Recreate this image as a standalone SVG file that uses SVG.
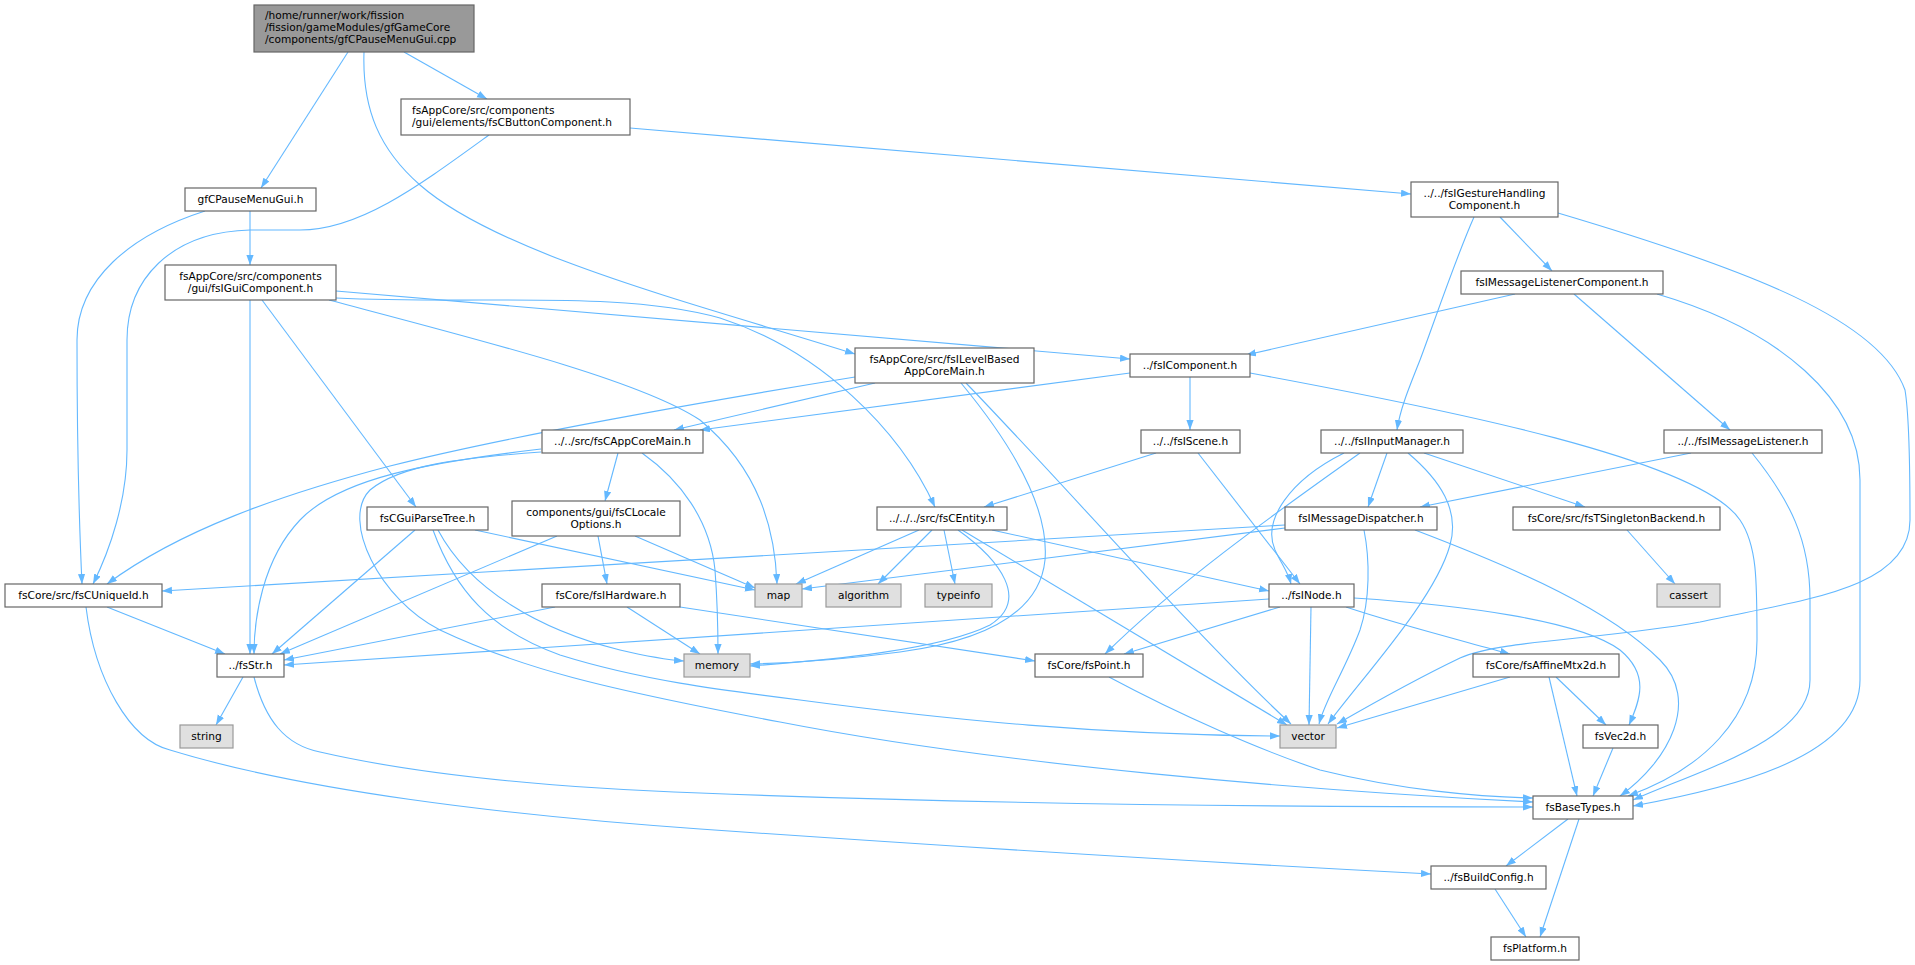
<svg xmlns="http://www.w3.org/2000/svg" width="1915" height="965" viewBox="0 0 1915 965">
<defs>
<marker id="ah" markerWidth="11" markerHeight="8" refX="10" refY="3.6" orient="auto" markerUnits="userSpaceOnUse"><path d="M0,0 L10,3.6 L0,7.2 z" fill="#63b8ff"/></marker>
<style>
rect{stroke-width:1.2}
.n rect{fill:#ffffff;stroke:#666666}
.x rect{fill:#e0e0e0;stroke:#999999}
.r rect{fill:#999999;stroke:#666666}
text{font-family:"DejaVu Sans","Liberation Sans",sans-serif;font-size:10.6px;fill:#000000;text-anchor:middle}
text.l{text-anchor:start}
#edges path{fill:none;stroke:#63b8ff;stroke-width:1.1;marker-end:url(#ah)}
</style>
</defs>
<rect width="1915" height="965" fill="#ffffff"/>
<g id="edges">
<path d="M348,52 L261,188"/>
<path d="M404,52 L487,99"/>
<path d="M364,52 C362,110 380,150 420,185 C500,255 700,305 855,354"/>
<path d="M250,211 L250,265"/>
<path d="M205,211 C130,235 77,280 77,340 C77,420 79,520 82,584"/>
<path d="M630,128 L1411,194"/>
<path d="M489,135 C420,185 360,230 300,230 L250,230 C170,232 127,280 127,340 L127,450 C127,500 110,550 93,584"/>
<path d="M336,291 L1130,359"/>
<path d="M336,298 C480,305 620,290 720,318 C820,350 900,430 935,507"/>
<path d="M329,300 C480,340 640,380 700,420 C760,470 775,530 777,584"/>
<path d="M250,300 L250,654"/>
<path d="M262,300 L416,507"/>
<path d="M1500,217 L1552,271"/>
<path d="M1474,217 C1455,260 1435,320 1420,360 C1408,390 1400,410 1397,430"/>
<path d="M1558,213 C1750,270 1880,320 1905,390 C1910,420 1910,480 1910,520 C1910,590 1800,600 1700,622 C1600,640 1500,640 1460,658 C1410,682 1370,705 1337,724"/>
<path d="M1515,294 L1246,355"/>
<path d="M1574,294 L1730,430"/>
<path d="M1657,294 C1780,330 1860,400 1860,480 L1860,680 C1860,760 1720,790 1633,806"/>
<path d="M875,383 L674,430"/>
<path d="M855,377 C700,402 500,438 390,466 C280,495 180,530 107,584"/>
<path d="M961,383 C1000,430 1050,500 1045,560 C1040,610 990,640 900,652 C840,660 790,663 750,664"/>
<path d="M966,383 C1060,480 1200,640 1291,724"/>
<path d="M1130,373 L700,430"/>
<path d="M1190,377 L1190,430"/>
<path d="M1250,373 C1450,410 1700,460 1740,520 C1757,545 1757,580 1757,640 C1757,720 1700,770 1628,796"/>
<path d="M618,453 L605,501"/>
<path d="M541,449 C430,462 340,478 300,520 C262,560 254,620 254,654"/>
<path d="M642,453 C680,480 710,520 715,570 C718,610 718,630 718,654"/>
<path d="M541,452 C460,458 400,465 370,490 C340,520 380,600 440,630 C520,668 600,688 780,722 C1000,765 1300,790 1533,802"/>
<path d="M1156,453 L984,507"/>
<path d="M1198,453 L1300,584"/>
<path d="M1387,453 L1368,507"/>
<path d="M1424,453 L1585,507"/>
<path d="M1344,453 C1290,480 1262,520 1275,550 C1282,565 1288,572 1291,584"/>
<path d="M1360,453 C1280,510 1180,580 1105,654"/>
<path d="M1408,453 C1440,480 1460,510 1450,545 C1435,600 1360,680 1328,724"/>
<path d="M1691,453 L1420,507"/>
<path d="M1752,453 C1790,500 1810,540 1810,600 L1810,680 C1810,740 1700,770 1633,800"/>
<path d="M415,530 L272,654"/>
<path d="M475,530 L755,590"/>
<path d="M438,530 C470,590 540,630 620,650 C650,657 670,660 684,661"/>
<path d="M433,530 C455,590 490,630 560,655 C640,680 720,690 800,700 C950,720 1100,735 1280,736"/>
<path d="M598,536 L607,584"/>
<path d="M557,536 L280,654"/>
<path d="M635,536 L755,588"/>
<path d="M919,530 L796,584"/>
<path d="M932,530 L878,584"/>
<path d="M944,530 L955,584"/>
<path d="M958,530 C1000,560 1030,600 990,625 C940,650 830,660 750,666"/>
<path d="M962,530 L1287,725"/>
<path d="M992,530 L1269,591"/>
<path d="M1285,525 L162,591"/>
<path d="M1285,528 L802,589"/>
<path d="M1364,530 C1370,560 1370,600 1360,630 C1345,670 1325,700 1319,724"/>
<path d="M1415,530 C1520,570 1610,610 1660,660 C1700,700 1670,760 1620,796"/>
<path d="M1627,530 L1675,584"/>
<path d="M107,607 L225,654"/>
<path d="M86,607 C95,680 130,740 170,750 C300,790 500,815 700,829 C1000,850 1200,862 1431,874"/>
<path d="M555,607 L284,660"/>
<path d="M627,607 L700,654"/>
<path d="M680,607 L1035,661"/>
<path d="M1269,599 L284,665"/>
<path d="M1280,607 L1124,654"/>
<path d="M1311,607 L1309,725"/>
<path d="M1346,607 C1400,625 1460,640 1510,654"/>
<path d="M1354,598 C1460,605 1580,620 1620,650 C1650,675 1640,700 1629,725"/>
<path d="M243,677 L216,725"/>
<path d="M254,677 C265,720 285,745 320,752 C420,775 560,788 700,793 C1000,805 1300,807 1533,807"/>
<path d="M1109,677 C1180,715 1260,750 1320,770 C1400,790 1480,797 1533,798"/>
<path d="M1510,677 L1337,728"/>
<path d="M1556,677 L1606,725"/>
<path d="M1549,677 L1577,796"/>
<path d="M1613,748 L1593,796"/>
<path d="M1568,819 L1506,866"/>
<path d="M1579,819 L1540,937"/>
<path d="M1495,889 L1526,937"/>
</g>
<g id="root" class="r"><rect x="254" y="5" width="220" height="47"/><text class="l" x="265" y="19">/home/runner/work/fission</text><text class="l" x="265" y="31">/fission/gameModules/gfGameCore</text><text class="l" x="265" y="43">/components/gfCPauseMenuGui.cpp</text></g>
<g id="btn" class="n"><rect x="401" y="99" width="229" height="36"/><text class="l" x="412" y="113.5">fsAppCore/src/components</text><text class="l" x="412" y="125.5">/gui/elements/fsCButtonComponent.h</text></g>
<g id="gfh" class="n"><rect x="185" y="188" width="131" height="23"/><text x="250.5" y="203">gfCPauseMenuGui.h</text></g>
<g id="gui" class="n"><rect x="165" y="265" width="171" height="35"/><text x="250.5" y="279.5">fsAppCore/src/components</text><text x="250.5" y="291.5">/gui/fsIGuiComponent.h</text></g>
<g id="gest" class="n"><rect x="1411" y="182" width="147" height="35"/><text x="1484.5" y="196.5">../../fsIGestureHandling</text><text x="1484.5" y="208.5">Component.h</text></g>
<g id="mlc" class="n"><rect x="1461" y="271" width="202" height="23"/><text x="1562" y="286">fsIMessageListenerComponent.h</text></g>
<g id="lvl" class="n"><rect x="855" y="348" width="179" height="35"/><text x="944.5" y="362.5">fsAppCore/src/fsILevelBased</text><text x="944.5" y="374.5">AppCoreMain.h</text></g>
<g id="comp" class="n"><rect x="1130" y="354" width="120" height="23"/><text x="1190" y="369">../fsIComponent.h</text></g>
<g id="app" class="n"><rect x="542" y="430" width="161" height="23"/><text x="622.5" y="445">../../src/fsCAppCoreMain.h</text></g>
<g id="scene" class="n"><rect x="1141" y="430" width="99" height="23"/><text x="1190.5" y="445">../../fsIScene.h</text></g>
<g id="inp" class="n"><rect x="1321" y="430" width="142" height="23"/><text x="1392" y="445">../../fsIInputManager.h</text></g>
<g id="ml" class="n"><rect x="1664" y="430" width="158" height="23"/><text x="1743" y="445">../../fsIMessageListener.h</text></g>
<g id="gpt" class="n"><rect x="367" y="507" width="121" height="23"/><text x="427.5" y="522">fsCGuiParseTree.h</text></g>
<g id="loc" class="n"><rect x="512" y="501" width="168" height="35"/><text x="596" y="515.5">components/gui/fsCLocale</text><text x="596" y="527.5">Options.h</text></g>
<g id="ent" class="n"><rect x="877" y="507" width="130" height="23"/><text x="942" y="522">../../../src/fsCEntity.h</text></g>
<g id="mdisp" class="n"><rect x="1285" y="507" width="152" height="23"/><text x="1361" y="522">fsIMessageDispatcher.h</text></g>
<g id="sing" class="n"><rect x="1513" y="507" width="207" height="23"/><text x="1616.5" y="522">fsCore/src/fsTSingletonBackend.h</text></g>
<g id="uid" class="n"><rect x="5" y="584" width="157" height="23"/><text x="83.5" y="599">fsCore/src/fsCUniqueId.h</text></g>
<g id="hw" class="n"><rect x="542" y="584" width="138" height="23"/><text x="611" y="599">fsCore/fsIHardware.h</text></g>
<g id="map" class="x"><rect x="755" y="584" width="47" height="23"/><text x="778.5" y="599">map</text></g>
<g id="alg" class="x"><rect x="826" y="584" width="75" height="23"/><text x="863.5" y="599">algorithm</text></g>
<g id="typ" class="x"><rect x="925" y="584" width="67" height="23"/><text x="958.5" y="599">typeinfo</text></g>
<g id="node" class="n"><rect x="1269" y="584" width="85" height="23"/><text x="1311.5" y="599">../fsINode.h</text></g>
<g id="cassert" class="x"><rect x="1657" y="584" width="63" height="23"/><text x="1688.5" y="599">cassert</text></g>
<g id="str" class="n"><rect x="217" y="654" width="67" height="23"/><text x="250.5" y="669">../fsStr.h</text></g>
<g id="mem" class="x"><rect x="684" y="654" width="66" height="23"/><text x="717" y="669">memory</text></g>
<g id="pt" class="n"><rect x="1035" y="654" width="108" height="23"/><text x="1089" y="669">fsCore/fsPoint.h</text></g>
<g id="aff" class="n"><rect x="1473" y="654" width="146" height="23"/><text x="1546" y="669">fsCore/fsAffineMtx2d.h</text></g>
<g id="string" class="x"><rect x="180" y="725" width="53" height="23"/><text x="206.5" y="740">string</text></g>
<g id="vec" class="x"><rect x="1280" y="725" width="56" height="23"/><text x="1308" y="740">vector</text></g>
<g id="v2d" class="n"><rect x="1583" y="725" width="75" height="23"/><text x="1620.5" y="740">fsVec2d.h</text></g>
<g id="bt" class="n"><rect x="1533" y="796" width="100" height="23"/><text x="1583" y="811">fsBaseTypes.h</text></g>
<g id="bc" class="n"><rect x="1431" y="866" width="115" height="23"/><text x="1488.5" y="881">../fsBuildConfig.h</text></g>
<g id="plat" class="n"><rect x="1491" y="937" width="88" height="23"/><text x="1535" y="952">fsPlatform.h</text></g>
</svg>
